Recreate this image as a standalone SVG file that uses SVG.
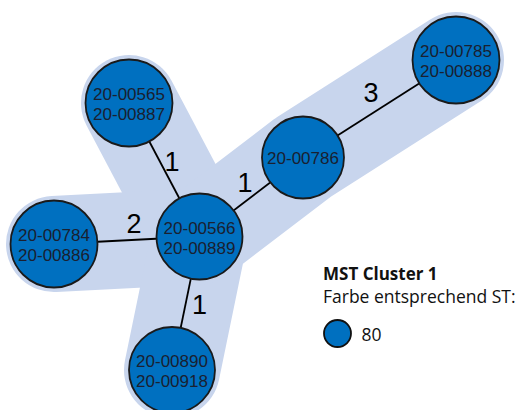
<svg xmlns="http://www.w3.org/2000/svg" width="515" height="410" viewBox="0 0 515 410">
<style>
.halo{fill:none;stroke:#c8d5ed;stroke-width:96;stroke-linecap:round;stroke-linejoin:round}
.edge{stroke:#000;stroke-width:1.8;fill:none}
.node circle{fill:#0070c0;stroke:#1a1a1a;stroke-width:1.8}
.node text{font-family:"Liberation Sans",Arial,sans-serif;font-size:17px;fill:#1a2030;text-anchor:middle}
.elabel{font-family:"Liberation Sans",Arial,sans-serif;font-size:27px;fill:#000;text-anchor:middle}
.legend{font-family:"Open Sans",Lato,sans-serif;fill:#111}
</style>
<rect width="515" height="410" fill="#fff"/>
<g id="halo">
<path class="halo" d="M129,103 L199.5,236.5"/>
<path class="halo" d="M54,244 L199.5,236.5"/>
<path class="halo" d="M172,370 L199.5,236.5"/>
<path class="halo" d="M199.5,236.5 L303,157.5 L456,60"/>
</g>
<g id="connectors">
<line class="edge" x1="129" y1="103" x2="199.5" y2="236.5"/>
<line class="edge" x1="54" y1="244" x2="199.5" y2="236.5"/>
<line class="edge" x1="172" y1="370" x2="199.5" y2="236.5"/>
<line class="edge" x1="199.5" y1="236.5" x2="303" y2="157.5"/>
<line class="edge" x1="303" y1="157.5" x2="456" y2="60"/>
<text class="elabel" x="172" y="171">1</text>
<text class="elabel" x="245" y="191.5">1</text>
<text class="elabel" x="134" y="233">2</text>
<text class="elabel" x="199.5" y="314">1</text>
<text class="elabel" x="371" y="101.5">3</text>
</g>
<g id="n1" class="node"><circle cx="129" cy="103" r="43.5"/><text x="129" y="100">20-00565</text><text x="129" y="120">20-00887</text></g>
<g id="n2" class="node"><circle cx="456" cy="60" r="43.5"/><text x="456" y="57">20-00785</text><text x="456" y="77">20-00888</text></g>
<g id="n3" class="node"><circle cx="303" cy="157.5" r="41"/><text x="303" y="164">20-00786</text></g>
<g id="n4" class="node"><circle cx="199.5" cy="236.5" r="43"/><text x="199.5" y="233.5">20-00566</text><text x="199.5" y="253.5">20-00889</text></g>
<g id="n5" class="node"><circle cx="54" cy="244" r="43.5"/><text x="54" y="241">20-00784</text><text x="54" y="261">20-00886</text></g>
<g id="n6" class="node"><circle cx="172" cy="370" r="43"/><text x="172" y="367">20-00890</text><text x="172" y="387">20-00918</text></g>
<g id="legend">
<text class="legend" x="323" y="279.5" font-size="17" font-weight="bold">MST Cluster 1</text>
<text class="legend" x="323" y="302.7" font-size="17.5">Farbe entsprechend ST:</text>
<circle cx="337.5" cy="333.5" r="13.5" fill="#0070c0" stroke="#111" stroke-width="1.8"/>
<text class="legend" x="361.5" y="340.7" font-size="17.5">80</text>
</g>
</svg>
